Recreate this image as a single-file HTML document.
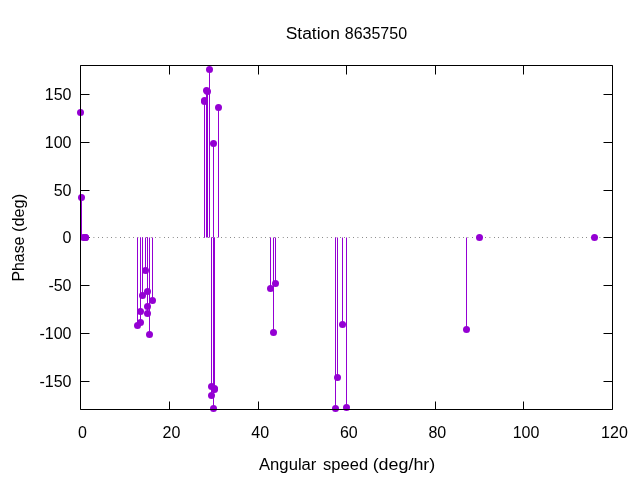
<!DOCTYPE html>
<html><head><meta charset="utf-8"><style>
html,body{margin:0;padding:0;background:#fff;width:640px;height:480px;overflow:hidden}
svg{display:block;will-change:transform}
text{font-family:"Liberation Sans",sans-serif}
</style></head><body>
<svg width="640" height="480" viewBox="0 0 640 480">
<rect width="640" height="480" fill="#fff"/>
<path d="M80.5 409.5V401.5M80.5 65.5V74.5M169.5 409.5V401.5M169.5 65.5V74.5M258.5 409.5V401.5M258.5 65.5V74.5M346.5 409.5V401.5M346.5 65.5V74.5M435.5 409.5V401.5M435.5 65.5V74.5M523.5 409.5V401.5M523.5 65.5V74.5M612.5 409.5V401.5M612.5 65.5V74.5M80.5 94.5H89.5M612.5 94.5H603.5M80.5 142.5H89.5M612.5 142.5H603.5M80.5 190.5H89.5M612.5 190.5H603.5M80.5 237.5H89.5M612.5 237.5H603.5M80.5 285.5H89.5M612.5 285.5H603.5M80.5 333.5H89.5M612.5 333.5H603.5M80.5 381.5H89.5M612.5 381.5H603.5" stroke="#000" stroke-width="1" fill="none"/>
<path d="M80.5 237.5H612.5" stroke="#000" stroke-width="1" stroke-dasharray="0.5 3.9" stroke-opacity="0.9" fill="none"/>
<path d="M80.5 237.5V112.5M81.5 237.5V197.5M137.5 237.5V325.5M140.5 237.5V311.5M140.5 237.5V322.5M142.5 237.5V295.5M145.5 237.5V270.5M147.5 237.5V291.5M147.5 237.5V306.5M147.5 237.5V313.5M149.5 237.5V334.5M152.5 237.5V300.5M204.5 237.5V100.5M204.5 237.5V101.5M206.5 237.5V90.5M207.5 237.5V91.5M209.5 237.5V69.5M211.5 237.5V386.5M211.5 237.5V395.5M213.5 237.5V143.5M213.5 237.5V408.5M214.5 237.5V388.5M214.5 237.5V389.5M218.5 237.5V107.5M270.5 237.5V288.5M273.5 237.5V332.5M275.5 237.5V283.5M335.5 237.5V408.5M337.5 237.5V377.5M342.5 237.5V324.5M346.5 237.5V407.5M466.5 237.5V329.5" stroke="#9400d3" stroke-width="1" fill="none"/>
<g fill="#9400d3"><circle cx="80.5" cy="112.5" r="3.5"/><circle cx="81.5" cy="197.5" r="3.5"/><circle cx="83.5" cy="237.5" r="3.5"/><circle cx="85.5" cy="237.5" r="3.5"/><circle cx="85.5" cy="237.5" r="3.5"/><circle cx="137.5" cy="325.5" r="3.5"/><circle cx="140.5" cy="311.5" r="3.5"/><circle cx="140.5" cy="322.5" r="3.5"/><circle cx="142.5" cy="295.5" r="3.5"/><circle cx="145.5" cy="270.5" r="3.5"/><circle cx="147.5" cy="291.5" r="3.5"/><circle cx="147.5" cy="306.5" r="3.5"/><circle cx="147.5" cy="313.5" r="3.5"/><circle cx="149.5" cy="334.5" r="3.5"/><circle cx="152.5" cy="300.5" r="3.5"/><circle cx="204.5" cy="100.5" r="3.5"/><circle cx="204.5" cy="101.5" r="3.5"/><circle cx="206.5" cy="90.5" r="3.5"/><circle cx="207.5" cy="91.5" r="3.5"/><circle cx="209.5" cy="69.5" r="3.5"/><circle cx="211.5" cy="386.5" r="3.5"/><circle cx="211.5" cy="395.5" r="3.5"/><circle cx="213.5" cy="143.5" r="3.5"/><circle cx="213.5" cy="408.5" r="3.5"/><circle cx="214.5" cy="388.5" r="3.5"/><circle cx="214.5" cy="389.5" r="3.5"/><circle cx="218.5" cy="107.5" r="3.5"/><circle cx="270.5" cy="288.5" r="3.5"/><circle cx="273.5" cy="332.5" r="3.5"/><circle cx="275.5" cy="283.5" r="3.5"/><circle cx="335.5" cy="408.5" r="3.5"/><circle cx="337.5" cy="377.5" r="3.5"/><circle cx="342.5" cy="324.5" r="3.5"/><circle cx="346.5" cy="407.5" r="3.5"/><circle cx="466.5" cy="329.5" r="3.5"/><circle cx="479.5" cy="237.5" r="3.5"/><circle cx="594.5" cy="237.5" r="3.5"/></g>
<path d="M80.5 65.5H612.5V409.5H80.5Z" stroke="#000" stroke-width="1" fill="none"/>
<g font-family="Liberation Sans, sans-serif" font-size="16" fill="#000"><text x="285.7" y="38.7" textLength="54.3" lengthAdjust="spacingAndGlyphs">Station</text><text x="344.75" y="38.7" textLength="62.3" lengthAdjust="spacingAndGlyphs">8635750</text><text x="71.5" y="100.4" text-anchor="end">150</text><text x="71.5" y="148.4" text-anchor="end">100</text><text x="71.5" y="196.4" text-anchor="end">50</text><text x="71.5" y="243.4" text-anchor="end">0</text><text x="71.5" y="291.4" text-anchor="end">-50</text><text x="71.5" y="339.4" text-anchor="end">-100</text><text x="71.5" y="387.4" text-anchor="end">-150</text><text x="82.40" y="437.6" text-anchor="middle">0</text><text x="171.50" y="437.6" text-anchor="middle">20</text><text x="260.20" y="437.6" text-anchor="middle">40</text><text x="348.85" y="437.6" text-anchor="middle">60</text><text x="437.30" y="437.6" text-anchor="middle">80</text><text x="526.00" y="437.6" text-anchor="middle">100</text><text x="614.45" y="437.6" text-anchor="middle">120</text><text x="259" y="470" textLength="57.4" lengthAdjust="spacingAndGlyphs">Angular</text><text x="323.1" y="470" textLength="45.0" lengthAdjust="spacingAndGlyphs">speed</text><text x="372.65" y="470" textLength="62.6" lengthAdjust="spacingAndGlyphs">(deg/hr)</text><text transform="translate(24 281.6) rotate(-90)" x="0" y="0" textLength="45.06" lengthAdjust="spacingAndGlyphs">Phase</text><text transform="translate(24 231.9) rotate(-90)" x="0" y="0" textLength="38.0" lengthAdjust="spacingAndGlyphs">(deg)</text></g>
</svg>
</body></html>
